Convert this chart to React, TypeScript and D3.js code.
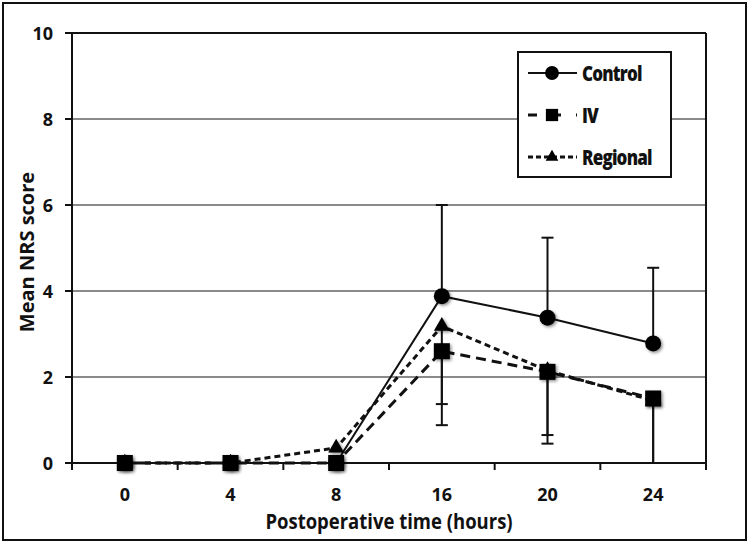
import React from "react";
import * as d3 from "d3";

const WIDTH = 750;
const HEIGHT = 543;
const LEFT = 72;
const RIGHT = 706;
const TOP = 33;
const BOTTOM = 463;
const FONT = "'Open Sans', Lato, sans-serif";

const categories = ["0", "4", "8", "16", "20", "24"];
const controlMean = [0, 0, 0, 3.88, 3.38, 2.78];
const controlUpper = [null, null, null, 6.0, 5.24, 4.54];
const ivMean = [0, 0, 0, 2.6, 2.12, 1.5];
const ivLower = [null, null, null, 1.37, 0.65, 0];
const regionalMean = [0, 0, 0.35, 3.18, 2.15, 1.45];
const regionalLower = [null, null, null, 0.88, 0.45, 0];
const yTicks = [0, 2, 4, 6, 8, 10];

const series = [
  { name: "Control", mean: controlMean, err: controlUpper, symbol: d3.symbolCircle, size: 200, legendSize: 150, dash: "" },
  { name: "Regional", mean: regionalMean, err: regionalLower, symbol: d3.symbolTriangle, size: 110, legendSize: 70, dash: "6,4" },
  { name: "IV", mean: ivMean, err: ivLower, symbol: d3.symbolSquare, size: 256, legendSize: 150, dash: "10,6" },
];
const legendOrder = ["Control", "IV", "Regional"];

const App = () => {
  const x = d3.scaleBand<string>().domain(categories).range([LEFT, RIGHT]);
  const y = d3.scaleLinear().domain([0, 10]).range([BOTTOM, TOP]);
  const cx = (c: string) => (x(c) as number) + x.bandwidth() / 2;

  const line = d3
    .line<number>()
    .x((_, i) => cx(categories[i]))
    .y((d) => y(d));

  const boundaries = categories.map((c) => x(c) as number).concat([RIGHT]);
  const titleX = 389;
  const titleY = BOTTOM + 58;

  return (
    <svg
      width={WIDTH}
      height={HEIGHT}
      style={{ position: "absolute", left: 0, top: 0, background: "white" }}
    >
      <defs>
        <filter id="shadow" x="-50%" y="-50%" width="200%" height="200%">
          <feDropShadow dx="1.5" dy="1.5" stdDeviation="1.5" floodColor="#000" floodOpacity="0.45" />
        </filter>
      </defs>
      <rect x={3} y={3} width={743} height={537} fill="white" stroke="#111" strokeWidth={2} />

      {/* gridlines */}
      {yTicks.filter((t) => t > 0 && t < 10).map((t) => (
        <line key={t} x1={LEFT} x2={RIGHT} y1={y(t)} y2={y(t)} stroke="#8a8a8a" strokeWidth={2} />
      ))}

      {/* plot frame */}
      <line x1={LEFT} x2={RIGHT} y1={TOP} y2={TOP} stroke="#111" strokeWidth={2} />
      <line x1={RIGHT} x2={RIGHT} y1={TOP} y2={BOTTOM + 7} stroke="#111" strokeWidth={2} />
      <line x1={LEFT} x2={LEFT} y1={TOP} y2={BOTTOM + 7} stroke="#111" strokeWidth={2} />
      <line x1={LEFT} x2={RIGHT} y1={BOTTOM} y2={BOTTOM} stroke="#111" strokeWidth={2} />

      {/* y ticks */}
      {yTicks.map((t) => (
        <g key={t}>
          <line x1={LEFT - 7} x2={LEFT} y1={y(t)} y2={y(t)} stroke="#111" strokeWidth={2} />
          <text
            x={LEFT - 19}
            y={y(t)}
            textAnchor="end"
            dominantBaseline="central"
            fontFamily={FONT}
            fontWeight="bold"
            fontSize={18}
            fill="#111"
          >
            {t}
          </text>
        </g>
      ))}

      {/* x ticks */}
      {boundaries.map((b, i) => (
        <line key={i} x1={b} x2={b} y1={BOTTOM} y2={BOTTOM + 7} stroke="#111" strokeWidth={2} />
      ))}
      {categories.map((c) => (
        <text
          key={c}
          x={cx(c)}
          y={BOTTOM + 31}
          textAnchor="middle"
          dominantBaseline="central"
          fontFamily={FONT}
          fontWeight="bold"
          fontSize={18}
          fill="#111"
        >
          {c}
        </text>
      ))}

      <text
        x={titleX}
        y={titleY}
        textAnchor="middle"
        dominantBaseline="central"
        fontFamily={FONT}
        fontWeight="bold"
        fontSize={18.5}
        fill="#111"
        transform={`translate(${titleX},${titleY}) scale(1,1.15) translate(${-titleX},${-titleY})`}
      >
        Postoperative time (hours)
      </text>
      <text
        transform={`translate(26, ${(TOP + BOTTOM) / 2 + 4}) rotate(-90)`}
        textAnchor="middle"
        dominantBaseline="central"
        fontFamily={FONT}
        fontWeight="bold"
        fontSize={20}
        fill="#111"
      >
        Mean NRS score
      </text>

      {/* error bars */}
      {series.map((s) =>
        s.err.map((e, i) =>
          e === null ? null : (
            <g key={s.name + i} stroke="#111" strokeWidth={2}>
              <line x1={cx(categories[i])} x2={cx(categories[i])} y1={y(s.mean[i])} y2={y(e)} />
              <line x1={cx(categories[i]) - 6} x2={cx(categories[i]) + 6} y1={y(e)} y2={y(e)} />
            </g>
          )
        )
      )}

      {/* lines and markers */}
      {series.map((s) => (
        <g key={s.name}>
          <path
            d={line(s.mean) as string}
            fill="none"
            stroke="#111"
            strokeWidth={s.dash ? 3 : 2}
            strokeDasharray={s.dash || undefined}
          />
          {s.mean.map((v, i) => (
            <path
              key={i}
              d={d3.symbol().type(s.symbol).size(s.size)() as string}
              transform={`translate(${cx(categories[i])},${y(v)})`}
              fill="#000"
              filter="url(#shadow)"
            />
          ))}
        </g>
      ))}

      {/* legend */}
      <g>
        <rect x={518} y={52} width={153} height={125} fill="white" stroke="#111" strokeWidth={2} />
        {legendOrder.map((name, i) => {
          const s = series.find((d) => d.name === name)!;
          const ly = 73 + i * 42;
          return (
            <g key={name}>
              <line
                x1={528}
                x2={577}
                y1={ly}
                y2={ly}
                stroke="#111"
                strokeWidth={s.dash ? 3 : 2}
                strokeDasharray={s.dash ? (name === "IV" ? "9,15" : "5,3") : undefined}
              />
              <path
                d={d3.symbol().type(s.symbol).size(s.legendSize)() as string}
                transform={`translate(552,${ly})`}
                fill="#000"
              />
              <text
                x={582}
                y={ly}
                dominantBaseline="central"
                fontFamily={FONT}
                fontWeight="800"
                fontSize={17}
                fill="#111"
                letterSpacing={-0.8}
                transform={`translate(582,${ly}) scale(1,1.2) translate(-582,${-ly})`}
              >
                {name}
              </text>
            </g>
          );
        })}
      </g>
    </svg>
  );
};

export default App;
